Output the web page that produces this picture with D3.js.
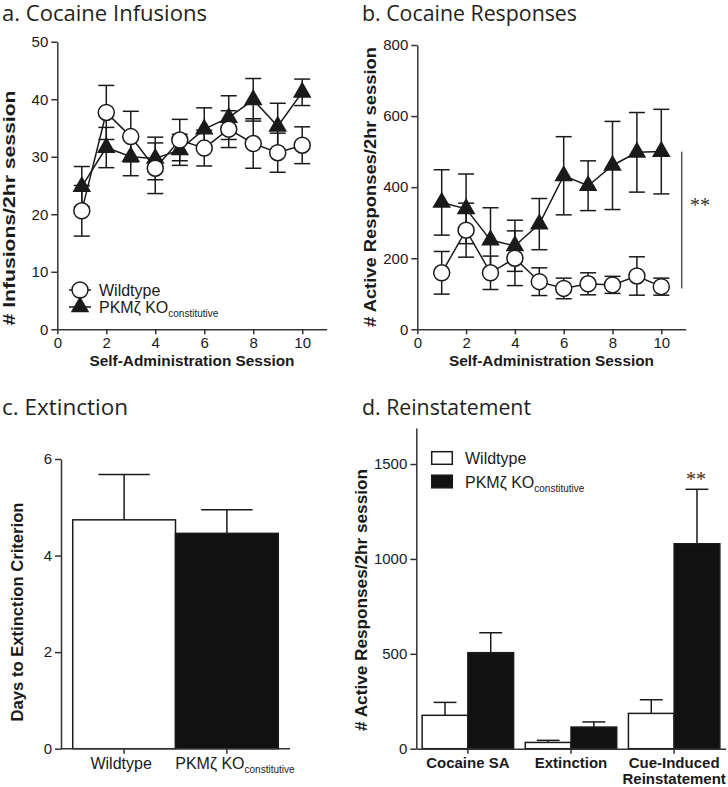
<!DOCTYPE html>
<html><head><meta charset="utf-8">
<script src="https://cdn.jsdelivr.net/npm/d3@7"></script>
<style>
html,body{margin:0;padding:0;background:#fff;}
svg{display:block;}
</style></head>
<body>
<svg id="chart" width="728" height="787"></svg>
<script>
// ---------- DATA ----------
const sessions = [1,2,3,4,5,6,7,8,9,10];
const sessionTicks = [0,2,4,6,8,10];
const infusionsWT    = [20.6, 37.7, 33.5, 28.0, 32.9, 31.5, 34.8, 32.3, 30.7, 32.0];
const infusionsWTErr = [4.4, 4.7, 4.4, 4.4, 3.6, 3.1, 3.2, 4.3, 3.4, 3.2];
const infusionsKO    = [24.8, 31.6, 30.0, 29.7, 31.2, 34.8, 36.8, 39.9, 35.3, 41.2];
const infusionsKOErr = [3.5, 3.5, 3.3, 3.7, 2.7, 3.7, 3.8, 3.7, 4.0, 2.3];
const infusionTicks  = [0,10,20,30,40,50];

const responsesWT    = [159, 279, 159, 200, 134, 115, 128, 125, 150, 120];
const responsesWTErr = [60, 76, 47, 77, 39, 29, 31, 24, 54, 24];
const responsesKO    = [357, 339, 251, 235, 296, 432, 404, 461, 498, 500];
const responsesKOErr = [92, 98, 91, 72, 72, 110, 70, 124, 112, 119];
const responseTicks  = [0,200,400,600,800];

const extinctionGroups = ["Wildtype", "PKMζ KO"];
const extinctionDays   = [4.74, 4.46];
const extinctionErr    = [0.94, 0.49];
const extinctionTicks  = [0,2,4,6];

const reinstCategories = ["Cocaine SA", "Extinction", "Cue-Induced Reinstatement"];
const reinstWT    = [176, 33, 186];
const reinstWTErr = [68, 11, 72];
const reinstKO    = [506, 114, 1080];
const reinstKOErr = [105, 27, 287];
const reinstTicks = [0,500,1000,1500];

const seriesNames = ["Wildtype", "PKMζ KO"];
const subscript = "constitutive";

// ---------- STYLE ----------
const FONT = "'Liberation Sans', Arial, Helvetica, sans-serif";
const TITLE_FONT = "'Open Sans', 'Noto Sans', sans-serif";
const INK = "#1a1a1a";
const AX = "#333";

const svg = d3.select("#chart");

function title(x, y, txt, len){
  svg.append("text").attr("x", x).attr("y", y).text(txt)
    .attr("font-family", TITLE_FONT).attr("font-size", 21).attr("fill", "#231f20")
    .attr("textLength", len).attr("lengthAdjust", "spacingAndGlyphs");
}
function yTitle(x, cy, txt, len){
  svg.append("text").attr("transform", `translate(${x},${cy}) rotate(-90)`)
    .attr("text-anchor", "middle").text(txt)
    .attr("font-family", FONT).attr("font-weight", "bold").attr("font-size", 16).attr("fill", INK)
    .attr("textLength", len).attr("lengthAdjust", "spacingAndGlyphs");
}
function styleAxis(g){
  g.selectAll("path,line").attr("stroke", AX).attr("stroke-width", 1.5);
  g.selectAll("text").attr("font-family", FONT).attr("font-size", 15).attr("fill", INK);
}
function yAxis(x, scale, ticks){
  const g = svg.append("g").attr("transform", `translate(${x},0)`)
    .call(d3.axisLeft(scale).tickValues(ticks).tickSize(6).tickSizeOuter(0).tickPadding(3).tickFormat(d3.format("d")));
  styleAxis(g);
  return g;
}
function xAxisLinear(y, scale, ticks){
  const g = svg.append("g").attr("transform", `translate(0,${y})`)
    .call(d3.axisBottom(scale).tickValues(ticks).tickSize(5).tickSizeOuter(0).tickPadding(3));
  styleAxis(g);
  return g;
}
function legendLabel(x, y, name, size, subSize){
  const t = svg.append("text").attr("x", x).attr("y", y)
    .attr("font-family", FONT).attr("font-size", size).attr("fill", INK);
  t.append("tspan").text(name);
  if (name !== seriesNames[0]) {
    t.append("tspan").attr("dy", 4).attr("font-size", subSize).text(subscript);
  }
  return t;
}

// ---------- LINE PANELS ----------
function linePanel(opt){
  const x = d3.scaleLinear().domain([0, 11]).range(opt.xr);
  const y = d3.scaleLinear().domain(opt.ydom).range(opt.yr);
  const g = svg.append("g");
  const series = [
    {vals: opt.wt, err: opt.wtErr, kind: "circle"},
    {vals: opt.ko, err: opt.koErr, kind: "triangle"}
  ];
  const cap = 8;
  // error bars
  series.forEach(s => {
    const eb = g.append("g").attr("stroke", INK).attr("stroke-width", 1.5).attr("fill", "none");
    sessions.forEach((sx, i) => {
      const cx = x(sx), hi = y(s.vals[i] + s.err[i]), lo = y(s.vals[i] - s.err[i]);
      eb.append("line").attr("x1", cx).attr("x2", cx).attr("y1", hi).attr("y2", lo);
      eb.append("line").attr("x1", cx - cap).attr("x2", cx + cap).attr("y1", hi).attr("y2", hi);
      eb.append("line").attr("x1", cx - cap).attr("x2", cx + cap).attr("y1", lo).attr("y2", lo);
    });
  });
  // lines
  const line = d3.line().x((d, i) => x(sessions[i])).y(d => y(d));
  series.forEach(s => {
    g.append("path").attr("d", line(s.vals)).attr("fill", "none").attr("stroke", INK).attr("stroke-width", 1.5);
  });
  // markers: triangles then circles
  g.selectAll(".tri").data(opt.ko).join("path")
    .attr("transform", (d, i) => `translate(${x(sessions[i])},${y(d)})`)
    .attr("d", d3.symbol(d3.symbolTriangle, 150)()).attr("fill", INK);
  g.selectAll(".cir").data(opt.wt).join("circle")
    .attr("cx", (d, i) => x(sessions[i])).attr("cy", d => y(d)).attr("r", 8)
    .attr("fill", "#fff").attr("stroke", INK).attr("stroke-width", 1.5);
  yAxis(opt.xr[0], y, opt.ticks);
  xAxisLinear(opt.yr[0], x, sessionTicks);
  svg.append("text").attr("x", (opt.xr[0] + opt.xr[1]) / 2).attr("y", opt.yr[0] + 37)
    .attr("text-anchor", "middle").text("Self-Administration Session")
    .attr("font-family", FONT).attr("font-weight", "bold").attr("font-size", 15).attr("fill", INK)
    .attr("textLength", 205).attr("lengthAdjust", "spacingAndGlyphs");
  return {x, y};
}

title(2, 21, "a. Cocaine Infusions", 205);
title(362, 21, "b. Cocaine Responses", 215);
title(2, 415, "c. Extinction", 126);
title(362, 415, "d. Reinstatement", 169);

const pa = linePanel({xr: [57.3, 326.7], yr: [329.3, 41.7], ydom: [0, 50],
  wt: infusionsWT, wtErr: infusionsWTErr, ko: infusionsKO, koErr: infusionsKOErr, ticks: infusionTicks});
yTitle(15, 208, "# Infusions/2hr session", 235);

const pb = linePanel({xr: [417.3, 685.7], yr: [329.3, 45], ydom: [0, 800],
  wt: responsesWT, wtErr: responsesWTErr, ko: responsesKO, koErr: responsesKOErr, ticks: responseTicks});
yTitle(376, 187, "# Active Responses/2hr session", 280);

// significance marker in b
svg.append("line").attr("x1", 681.7).attr("x2", 681.7)
  .attr("y1", pb.y(d3.max(responsesKO))).attr("y2", pb.y(d3.min(responsesWT)) - 0)
  .attr("stroke", "#555").attr("stroke-width", 1.5);
svg.append("text").attr("x", 700).attr("y", 212).attr("text-anchor", "middle").text("**")
  .attr("font-family", "'Liberation Serif', 'DejaVu Serif', serif").attr("font-size", 20).attr("fill", "#333");

// legend a
{
  const lx = 80, ly1 = 290, ly2 = 307;
  svg.append("line").attr("x1", lx - 11).attr("x2", lx + 11).attr("y1", ly1).attr("y2", ly1).attr("stroke", INK).attr("stroke-width", 1.5);
  svg.append("circle").attr("cx", lx).attr("cy", ly1).attr("r", 8).attr("fill", "#fff").attr("stroke", INK).attr("stroke-width", 1.5);
  svg.append("line").attr("x1", lx - 11).attr("x2", lx + 11).attr("y1", ly2).attr("y2", ly2).attr("stroke", INK).attr("stroke-width", 1.5);
  svg.append("path").attr("transform", `translate(${lx},${ly2})`).attr("d", d3.symbol(d3.symbolTriangle, 150)()).attr("fill", INK);
  legendLabel(99, ly1 + 6, seriesNames[0], 16, 10);
  legendLabel(99, ly2 + 6, seriesNames[1], 16, 10);
}

// ---------- PANEL C ----------
{
  const y = d3.scaleLinear().domain([0, 6]).range([748.7, 459]);
  const x = d3.scaleBand().domain(extinctionGroups).range([61, 290]).paddingInner(0).paddingOuter(0.114);
  const g = svg.append("g");
  extinctionGroups.forEach((k, i) => {
    const cx = x(k) + x.bandwidth() / 2, top = y(extinctionDays[i] + extinctionErr[i]);
    g.append("line").attr("x1", cx).attr("x2", cx).attr("y1", y(extinctionDays[i])).attr("y2", top).attr("stroke", INK).attr("stroke-width", 1.5);
    g.append("line").attr("x1", cx - x.bandwidth() / 4).attr("x2", cx + x.bandwidth() / 4).attr("y1", top).attr("y2", top).attr("stroke", INK).attr("stroke-width", 1.5);
  });
  g.selectAll("rect").data(extinctionDays).join("rect")
    .attr("x", (d, i) => x(extinctionGroups[i])).attr("width", x.bandwidth())
    .attr("y", d => y(d)).attr("height", d => y(0) - y(d))
    .attr("fill", (d, i) => i === 0 ? "#fff" : "#111").attr("stroke", INK).attr("stroke-width", 1.5);
  yAxis(61, y, extinctionTicks);
  const xa = svg.append("g").attr("transform", `translate(0,${y(0)})`)
    .call(d3.axisBottom(x).tickSize(5).tickSizeOuter(0).tickFormat(""));
  styleAxis(xa);
  xa.select(".domain").attr("d", `M61,0H290`);
  const l1 = svg.append("text").attr("x", x(extinctionGroups[0]) + x.bandwidth() / 2 - 3).attr("y", 769).attr("text-anchor", "middle")
    .attr("font-family", FONT).attr("font-size", 16).attr("fill", INK).text(extinctionGroups[0]);
  const l2 = svg.append("text").attr("x", x(extinctionGroups[1]) + x.bandwidth() / 2 + 8).attr("y", 769).attr("text-anchor", "middle")
    .attr("font-family", FONT).attr("font-size", 16).attr("fill", INK);
  l2.append("tspan").text(extinctionGroups[1]);
  l2.append("tspan").attr("dy", 4).attr("font-size", 10).text(subscript);
  yTitle(23, 612, "Days to Extinction Criterion", 219);
}

// ---------- PANEL D ----------
{
  const y = d3.scaleLinear().domain([0, 1690]).range([748.7, 428]);
  const x = d3.scaleBand().domain(reinstCategories).range([416.3, 725.7]).padding(0);
  const sub = d3.scaleBand().domain(seriesNames).range([0, x.bandwidth()]).paddingInner(0).paddingOuter(0.128);
  const rows = [];
  reinstCategories.forEach((c, i) => {
    rows.push({c, s: seriesNames[0], v: reinstWT[i], e: reinstWTErr[i]});
    rows.push({c, s: seriesNames[1], v: reinstKO[i], e: reinstKOErr[i]});
  });
  const g = svg.append("g");
  rows.forEach(r => {
    const cx = x(r.c) + sub(r.s) + sub.bandwidth() / 2, top = y(r.v + r.e);
    g.append("line").attr("x1", cx).attr("x2", cx).attr("y1", y(r.v)).attr("y2", top).attr("stroke", INK).attr("stroke-width", 1.5);
    g.append("line").attr("x1", cx - sub.bandwidth() / 4).attr("x2", cx + sub.bandwidth() / 4).attr("y1", top).attr("y2", top).attr("stroke", INK).attr("stroke-width", 1.5);
  });
  g.selectAll("rect").data(rows).join("rect")
    .attr("x", r => x(r.c) + sub(r.s)).attr("width", sub.bandwidth())
    .attr("y", r => y(r.v)).attr("height", r => y(0) - y(r.v))
    .attr("fill", r => r.s === seriesNames[0] ? "#fff" : "#111").attr("stroke", INK).attr("stroke-width", 1.5);
  const ya = svg.append("g").attr("transform", "translate(416.3,0)")
    .call(d3.axisLeft(y).tickValues(reinstTicks).tickSize(6).tickSizeOuter(0).tickPadding(3).tickFormat(d3.format("d")));
  styleAxis(ya);
  const xa = svg.append("g").attr("transform", `translate(0,${y(0)})`)
    .call(d3.axisBottom(x).tickSize(5).tickSizeOuter(0).tickFormat(""));
  styleAxis(xa);
  xa.selectAll(".tick").attr("transform", d => `translate(${x(d) + x.bandwidth() / 2},0)`);
  const labels = [["Cocaine SA"], ["Extinction"], ["Cue-Induced", "Reinstatement"]];
  labels.forEach((ls, i) => {
    ls.forEach((t, j) => {
      svg.append("text").attr("x", x(reinstCategories[i]) + x.bandwidth() / 2).attr("y", 768 + j * 15.5)
        .attr("text-anchor", "middle").attr("font-family", FONT).attr("font-weight", "bold").attr("font-size", 15).attr("fill", INK).text(t);
    });
  });
  yTitle(367, 600, "# Active Responses/2hr session", 262);
  // significance
  svg.append("text").attr("x", 696).attr("y", 486).attr("text-anchor", "middle").text("**")
    .attr("font-family", "'Liberation Serif', 'DejaVu Serif', serif").attr("font-size", 20).attr("fill", "#333");
  // legend
  [0, 1].forEach(i => {
    svg.append("rect").attr("x", 431.7).attr("y", 451.7 + i * 23.5).attr("width", 20.6).attr("height", 12.6)
      .attr("fill", i === 0 ? "#fff" : "#111").attr("stroke", INK).attr("stroke-width", 1.5);
    legendLabel(465, 463.5 + i * 24, seriesNames[i], 16, 10);
  });
}
</script>
</body></html>
